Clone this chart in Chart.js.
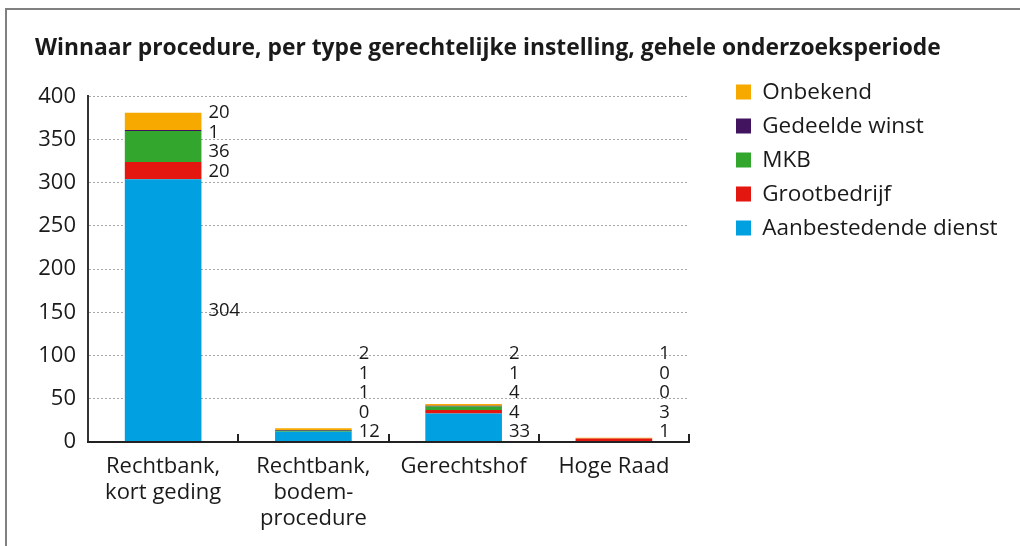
<!DOCTYPE html>
<html>
<head>
<meta charset="utf-8">
<script src="https://cdn.jsdelivr.net/npm/chart.js@4.4.1/dist/chart.umd.min.js"></script>
<style>
  html, body { margin: 0; padding: 0; background: #fff; }
  #wrap { position: relative; width: 1020px; height: 546px; overflow: hidden; }
  #frame { position: absolute; left: 5px; top: 8px; right: 0; bottom: 0; border-top: 2px solid #808080; border-left: 2px solid #808080; }
  #chart { position: absolute; left: 0; top: 0; }
</style>
</head>
<body>
<div id="wrap">
  <div id="frame"></div>
  <canvas id="chart" width="1020" height="546"></canvas>
</div>
<script>
// Winnaar procedure per type gerechtelijke instelling

const categories = [
  ["Rechtbank,", "kort geding"],
  ["Rechtbank,", "bodem-", "procedure"],
  "Gerechtshof",
  "Hoge Raad",
];
const aanbestedendeDienst = [304, 12, 33, 1];
const grootbedrijf = [20, 0, 4, 3];
const mkb = [36, 1, 4, 0];
const gedeeldeWinst = [1, 1, 1, 0];
const onbekend = [20, 2, 2, 1];
const yTicks = [0, 50, 100, 150, 200, 250, 300, 350, 400];

const FONT = "'Open Sans', 'Noto Sans', sans-serif";
const TEXT = "#1a1a1a";

// labels next to each bar, pushed apart when they would overlap
const stackLabels = {
  id: "stackLabels",
  afterDatasetsDraw(chart) {
    const ctx = chart.ctx;
    const gap = 19.5;
    const maxY = chart.chartArea.bottom - 10;
    ctx.save();
    ctx.font = "18.5px " + FONT;
    ctx.fillStyle = TEXT;
    ctx.textAlign = "left";
    ctx.textBaseline = "middle";

    categories.forEach((cat, i) => {
      const items = chart.data.datasets.map((ds, d) => {
        const bar = chart.getDatasetMeta(d).data[i];
        return {
          text: String(ds.data[i]),
          ideal: (bar.y + bar.base) / 2,
          x: bar.x + bar.width / 2 + 7,
        };
      });

      const place = (g) => {
        const n = g.items.length;
        g.items.forEach((it, k) => {
          it.y = g.mean + ((n - 1) / 2 - k) * gap;
        });
      };
      let groups = items.map((it) => ({ items: [it], mean: it.ideal }));
      let merged = true;
      while (merged) {
        merged = false;
        groups.forEach(place);
        for (let k = 0; k < groups.length - 1; k++) {
          const a = groups[k];
          const b = groups[k + 1];
          if (a.items[a.items.length - 1].y - b.items[0].y < gap) {
            const all = a.items.concat(b.items);
            const mean = all.reduce((s, it) => s + it.ideal, 0) / all.length;
            groups.splice(k, 2, { items: all, mean: mean });
            merged = true;
            break;
          }
        }
      }
      groups.forEach(place);

      // keep the lowest label above the axis
      items[0].y = Math.min(items[0].y, maxY);
      for (let k = 1; k < items.length; k++) {
        items[k].y = Math.min(items[k].y, items[k - 1].y - gap);
      }

      items.forEach((it) => ctx.fillText(it.text, it.x, it.y));
    });
    ctx.restore();
  },
};

// small tick marks on the x axis between categories
const axisTicks = {
  id: "axisTicks",
  afterDatasetsDraw(chart) {
    const x = chart.scales.x;
    const ctx = chart.ctx;
    const step = x.getPixelForValue(1) - x.getPixelForValue(0);
    const bottom = chart.chartArea.bottom;
    ctx.save();
    ctx.strokeStyle = "#222";
    ctx.lineWidth = 2;
    for (let i = 0; i < categories.length; i++) {
      const px = Math.round(x.getPixelForValue(i) + step / 2);
      ctx.beginPath();
      ctx.moveTo(px, bottom);
      ctx.lineTo(px, bottom - 8);
      ctx.stroke();
    }
    ctx.restore();
  },
};

// legend gets a fixed slot on the right, then is moved up next to the title
const legendSpot = {
  id: "legendSpot",
  beforeLayout(chart) {
    const lg = chart.legend;
    if (lg && !lg._fixedFit) {
      const fit = lg.fit.bind(lg);
      lg.fit = function () {
        fit();
        this.width = 331;
      };
      lg._fixedFit = true;
    }
  },
  afterLayout(chart) {
    const lg = chart.legend;
    if (!lg) return;
    const w = lg.width;
    const h = lg.height;
    lg.left = chart.chartArea.right + 35.5;
    lg.right = lg.left + w;
    lg.top = chart.chartArea.top - 27;
    lg.bottom = lg.top + h;
  },
};

const ctx = document.getElementById("chart").getContext("2d");

new Chart(ctx, {
  type: "bar",
  data: {
    labels: categories,
    datasets: [
      { label: "Aanbestedende dienst", data: aanbestedendeDienst, backgroundColor: "#00a0e1" },
      { label: "Grootbedrijf", data: grootbedrijf, backgroundColor: "#e3170f" },
      { label: "MKB", data: mkb, backgroundColor: "#33a62e" },
      { label: "Gedeelde winst", data: gedeeldeWinst, backgroundColor: "#42145f" },
      { label: "Onbekend", data: onbekend, backgroundColor: "#f7a900" },
    ],
  },
  options: {
    responsive: false,
    animation: false,
    devicePixelRatio: 1,
    datasets: {
      bar: {
        categoryPercentage: 0.51,
        barPercentage: 1,
        borderWidth: 0,
      },
    },
    layout: {
      padding: { left: 35, top: 21, right: 0, bottom: 0 },
    },
    scales: {
      x: {
        stacked: true,
        grid: { display: false, drawTicks: false },
        border: { display: true, color: "#222", width: 2, z: 1 },
        ticks: {
          color: TEXT,
          padding: 12,
          maxRotation: 0,
          autoSkip: false,
          font: { family: FONT, size: 22, lineHeight: 1.18 },
        },
        afterFit: (scale) => {
          scale.height = 104;
        },
      },
      y: {
        stacked: true,
        min: 0,
        max: 400,
        grid: { color: "#a8a8a8", lineWidth: 1, drawTicks: false },
        border: { display: true, color: "#333", width: 2, dash: [2, 2] },
        afterBuildTicks: (scale) => {
          scale.ticks = yTicks.map((v) => ({ value: v }));
        },
        ticks: {
          color: TEXT,
          padding: 12,
          font: { family: FONT, size: 22 },
        },
        afterFit: (scale) => {
          scale.width = 53;
        },
      },
    },
    plugins: {
      title: {
        display: true,
        text: "Winnaar procedure, per type gerechtelijke instelling, gehele onderzoeksperiode",
        align: "start",
        color: TEXT,
        font: { family: FONT, size: 22.8, weight: "bold", lineHeight: 1.2 },
        padding: { top: 14, bottom: 34 },
      },
      legend: {
        display: true,
        position: "right",
        align: "start",
        reverse: true,
        labels: {
          boxWidth: 15,
          boxHeight: 15,
          padding: 11.5,
          color: TEXT,
          font: { family: FONT, size: 22.5 },
        },
      },
      tooltip: { enabled: false },
    },
  },
  plugins: [stackLabels, axisTicks, legendSpot],
});
</script>
</body>
</html>
